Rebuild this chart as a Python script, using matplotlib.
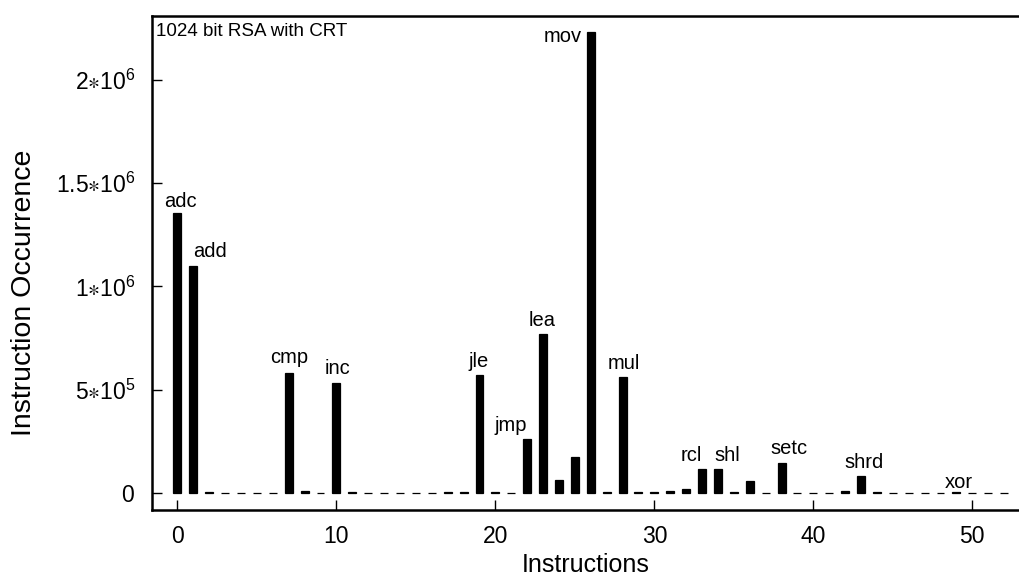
import numpy as np
import matplotlib
matplotlib.use('Agg')
import matplotlib.pyplot as plt

plt.rcParams['font.family'] = ['Liberation Sans', 'DejaVu Sans']
plt.rcParams['mathtext.fontset'] = 'custom'
plt.rcParams['mathtext.rm'] = 'Liberation Sans'
plt.rcParams['mathtext.it'] = 'Liberation Sans'

# instruction index -> occurrence count
counts = [1355000, 1100000, 3000, 2000, 2000, 2000, 2000, 582000, 8000, 2000,
          531000, 6000, 2000, 2000, 2000, 2000, 2000, 3000, 3000, 571000,
          4000, 2000, 260000, 770000, 63000, 176000, 2231000, 4000, 560000, 3000,
          3000, 10000, 20000, 116000, 115000, 6000, 58000, 2000, 147000, 2000,
          2000, 2000, 12000, 82000, 4000, 2000, 2000, 2000, 2000, 6000,
          2000, 2000, 2000]
idx = np.arange(len(counts))

names = {0: 'adc', 1: 'add', 7: 'cmp', 10: 'inc', 19: 'jle', 22: 'jmp', 23: 'lea',
         26: 'mov', 28: 'mul', 33: 'rcl', 34: 'shl', 38: 'setc', 43: 'shrd', 49: 'xor'}

yticks = [0, 5e5, 1e6, 1.5e6, 2e6]
yticklabels = [r'$\mathregular{0}$', r'$\mathregular{5{\ast}10^5}$', r'$\mathregular{1{\ast}10^6}$',
               r'$\mathregular{1.5{\ast}10^6}$', r'$\mathregular{2{\ast}10^6}$']

# label nudges in pixels (dx, dy above bar top)
nudge = {'adc': (3, 6), 'add': (17, 9), 'cmp': (0, 10), 'inc': (1, 9), 'jle': (-1, 8),
         'jmp': (-16, 8), 'lea': (-1, 8), 'mov': (-28, -10), 'mul': (1, 8),
         'rcl': (-11, 8), 'shl': (9, 8), 'setc': (7, 9), 'shrd': (3, 8), 'xor': (2, 4)}

fig = plt.figure(figsize=(10.2, 5.81), dpi=100)
ax = fig.add_axes([0.149, 0.123, 0.851, 0.8495])

ax.bar(idx, counts, width=0.5, color='black', edgecolor='black', linewidth=0.9)

for i, name in names.items():
    dx, dy = nudge[name]
    ax.annotate(name, xy=(idx[i], counts[i]), xytext=(dx, dy), textcoords='offset pixels',
                ha='center', va='baseline', fontsize=14.5)

ax.set_xlim(-1.6, 53.0)
ax.set_ylim(-80000, 2309000)
ax.set_xticks([0, 10, 20, 30, 40, 50])
ax.set_yticks(yticks)
ax.set_yticklabels(yticklabels)
ax.tick_params(direction='in', length=7, width=1, labelsize=16.5)
ax.tick_params(axis='x', pad=11)
ax.tick_params(axis='y', pad=12)

for s in ['left', 'bottom', 'top']:
    ax.spines[s].set_linewidth(1.8)
ax.spines['right'].set_visible(False)

ax.annotate('1024 bit RSA with CRT', xy=(0, 1), xycoords='axes fraction',
            xytext=(4, -7), textcoords='offset pixels', ha='left', va='top', fontsize=13.5)

ax.set_xlabel('Instructions', fontsize=18, labelpad=4)
ax.set_ylabel('Instruction Occurrence', fontsize=20.5)
ax.yaxis.set_label_coords(-0.133, 0.44)

fig.savefig('out.png', dpi=100)
